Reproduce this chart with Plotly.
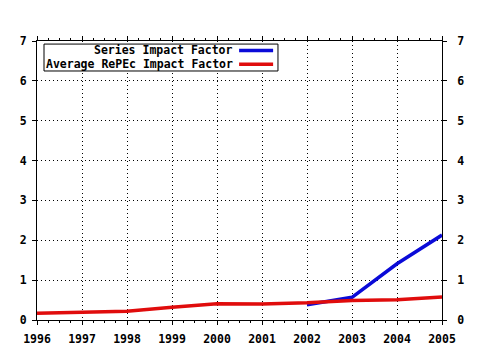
import plotly.graph_objects as go

# Impact factor series by year
years = [1996, 1997, 1998, 1999, 2000, 2001, 2002, 2003, 2004, 2005]
series_years = [2002, 2003, 2004, 2005]
series_if = [0.38, 0.57, 1.41, 2.13]
average_if = [0.17, 0.20, 0.22, 0.32, 0.41, 0.40, 0.43, 0.49, 0.51, 0.58]

series_name = "Series Impact Factor"
average_name = "Average RePEc Impact Factor"
y_ticks = [0, 1, 2, 3, 4, 5, 6, 7]

BLUE = "#0a0ad8"
RED = "#e00c0c"
FONT = dict(family="DejaVu Sans Mono", size=11.5, color="black", weight="bold")
LEGEND_FONT = dict(FONT, size=11.5)
GRID_DASH = "1px,3px"

fig = go.Figure()
fig.add_trace(go.Scatter(x=series_years, y=series_if, mode="lines",
                         line=dict(color=BLUE, width=3.5), name=series_name))
fig.add_trace(go.Scatter(x=years, y=average_if, mode="lines",
                         line=dict(color=RED, width=3.5), name=average_name))
# Same data on the right-hand axis (invisible) so that axis is rendered
fig.add_trace(go.Scatter(x=years, y=average_if, mode="lines", yaxis="y2",
                         line=dict(color="rgba(0,0,0,0)", width=0),
                         showlegend=False, hoverinfo="skip"))

axis_common = dict(showline=True, linecolor="black", linewidth=1,
                   ticks="outside", ticklen=4, tickcolor="black",
                   tickfont=FONT, zeroline=False, automargin=False)

fig.update_layout(
    width=480, height=350,
    margin=dict(l=37, r=38, t=41, b=30),
    paper_bgcolor="white", plot_bgcolor="white",
    showlegend=False,
    font=FONT,
    xaxis=dict(range=[years[0], years[-1]], tickvals=years,
               ticktext=[str(y) for y in years],
               showgrid=True, gridcolor="black", griddash=GRID_DASH, gridwidth=1,
               mirror="ticks", ticklabelstandoff=4,
               minor=dict(dtick=0.25, ticks="outside", ticklen=2,
                          tickcolor="black", showgrid=False),
               **axis_common),
    yaxis=dict(range=[0, 7], tickvals=y_ticks,
               showgrid=True, gridcolor="black", griddash=GRID_DASH, gridwidth=1,
               mirror="ticks", ticklabelstandoff=3, **axis_common),
    yaxis2=dict(range=[0, 7], tickvals=y_ticks, overlaying="y", side="right",
                showgrid=False, ticklabelstandoff=8, **axis_common),
)

# Legend box with right-aligned labels and line samples on the right
fig.add_shape(type="rect", xref="paper", yref="paper",
              x0=0.0173, x1=0.595, y0=0.8925, y1=0.989,
              line=dict(color="black", width=1), fillcolor="white", layer="above")
rows = [(series_name, BLUE, 0.966), (average_name, RED, 0.917)]
for label, color, yp in rows:
    fig.add_annotation(text=label, xref="paper", yref="paper", x=0.486, y=yp,
                       xanchor="right", yanchor="middle", showarrow=False,
                       borderpad=0, font=LEGEND_FONT)
    fig.add_shape(type="line", xref="paper", yref="paper",
                  x0=0.499, x1=0.583, y0=yp, y1=yp,
                  line=dict(color=color, width=3.5), layer="above")

fig.write_html("out.html")
